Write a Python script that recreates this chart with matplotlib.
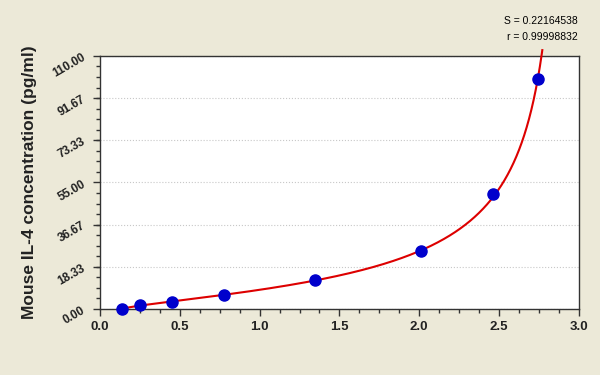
import numpy as np
import matplotlib.pyplot as plt
from matplotlib.ticker import MultipleLocator, FixedLocator, FormatStrFormatter

# standard curve data (OD vs concentration)
od = [0.136, 0.251, 0.450, 0.778, 1.350, 2.009, 2.465, 2.747]
conc = [0.0, 1.56, 3.125, 6.25, 12.5, 25.0, 50.0, 100.0]
x_ticks = [0.0, 0.5, 1.0, 1.5, 2.0, 2.5, 3.0]
y_ticks = [0.00, 18.33, 36.67, 55.00, 73.33, 91.67, 110.00]
y_ticklabels = ["0.00", "18.33", "36.67", "55.00", "73.33", "91.67", "110.00"]
stats = ["S = 0.22164538", "r = 0.99998832"]

od = np.array(od)
conc = np.array(conc)


# 4PL fit: OD = a*g + d*(1-g), g = 1/(1+(conc/c)^b); grid over b, c, linear lstsq for a, d
def fit_4pl(x, y):
    best = None
    for b in np.linspace(0.5, 2.0, 151):
        for c in np.linspace(5, 60, 221):
            g = 1.0 / (1.0 + (x / c) ** b)
            A = np.column_stack([g, 1 - g])
            coef, *_ = np.linalg.lstsq(A, y, rcond=None)
            err = np.sum((A @ coef - y) ** 2)
            if best is None or err < best[0]:
                best = (err, coef[0], b, c, coef[1])
    return best[1:]


a, b, c, d = fit_4pl(conc, od)
cc = np.linspace(0, 112.5, 600)
od_fit = d + (a - d) / (1 + (cc / c) ** b)

bg = '#ece9d8'
fig = plt.figure(figsize=(6, 3.75), dpi=100, facecolor=bg)
ax = fig.add_axes([0.1667, 0.176, 0.798, 0.675])
ax.set_facecolor('white')

ax.plot(od_fit, cc, color='#dd0000', linewidth=1.5, zorder=3, clip_on=False)
ax.plot(od, conc, 'o', color='#0000cc', markersize=8, zorder=4, clip_on=False)

ax.set_xlim(0, 3.0)
ax.set_ylim(0, 110)
ax.xaxis.set_major_locator(FixedLocator(x_ticks))
ax.xaxis.set_major_formatter(FormatStrFormatter('%.1f'))
ax.xaxis.set_minor_locator(MultipleLocator(0.125))
ax.yaxis.set_major_locator(FixedLocator(y_ticks))
ax.yaxis.set_minor_locator(MultipleLocator(110 / 24))
ax.set_yticklabels(y_ticklabels, rotation=30, fontsize=8.5, fontweight='bold',
                   family='Liberation Sans', color='#222222')
for lbl in ax.get_xticklabels():
    lbl.set_fontsize(9.5)
    lbl.set_fontweight('bold')
    lbl.set_family('Liberation Sans')
    lbl.set_color('#222222')

ax.tick_params(which='major', direction='out', length=5, width=1, color='#333333', pad=4)
ax.tick_params(which='minor', direction='out', length=3, width=1, color='#333333')
for sp in ax.spines.values():
    sp.set_color('#333333')
    sp.set_linewidth(1)

ax.grid(axis='y', which='major', linestyle=':', color='#c8c8c8', linewidth=0.8)
ax.set_axisbelow(True)

ax.set_ylabel("Mouse IL-4 concentration (pg/ml)", fontsize=12.5, fontweight='bold',
              family='Liberation Sans', color='#222222', labelpad=10)

fig.text(0.963, 0.945, stats[0], ha='right', va='center', fontsize=7.5, family='Liberation Sans')
fig.text(0.963, 0.9, stats[1], ha='right', va='center', fontsize=7.5, family='Liberation Sans')

fig.savefig('out.png', dpi=100, facecolor=bg)
